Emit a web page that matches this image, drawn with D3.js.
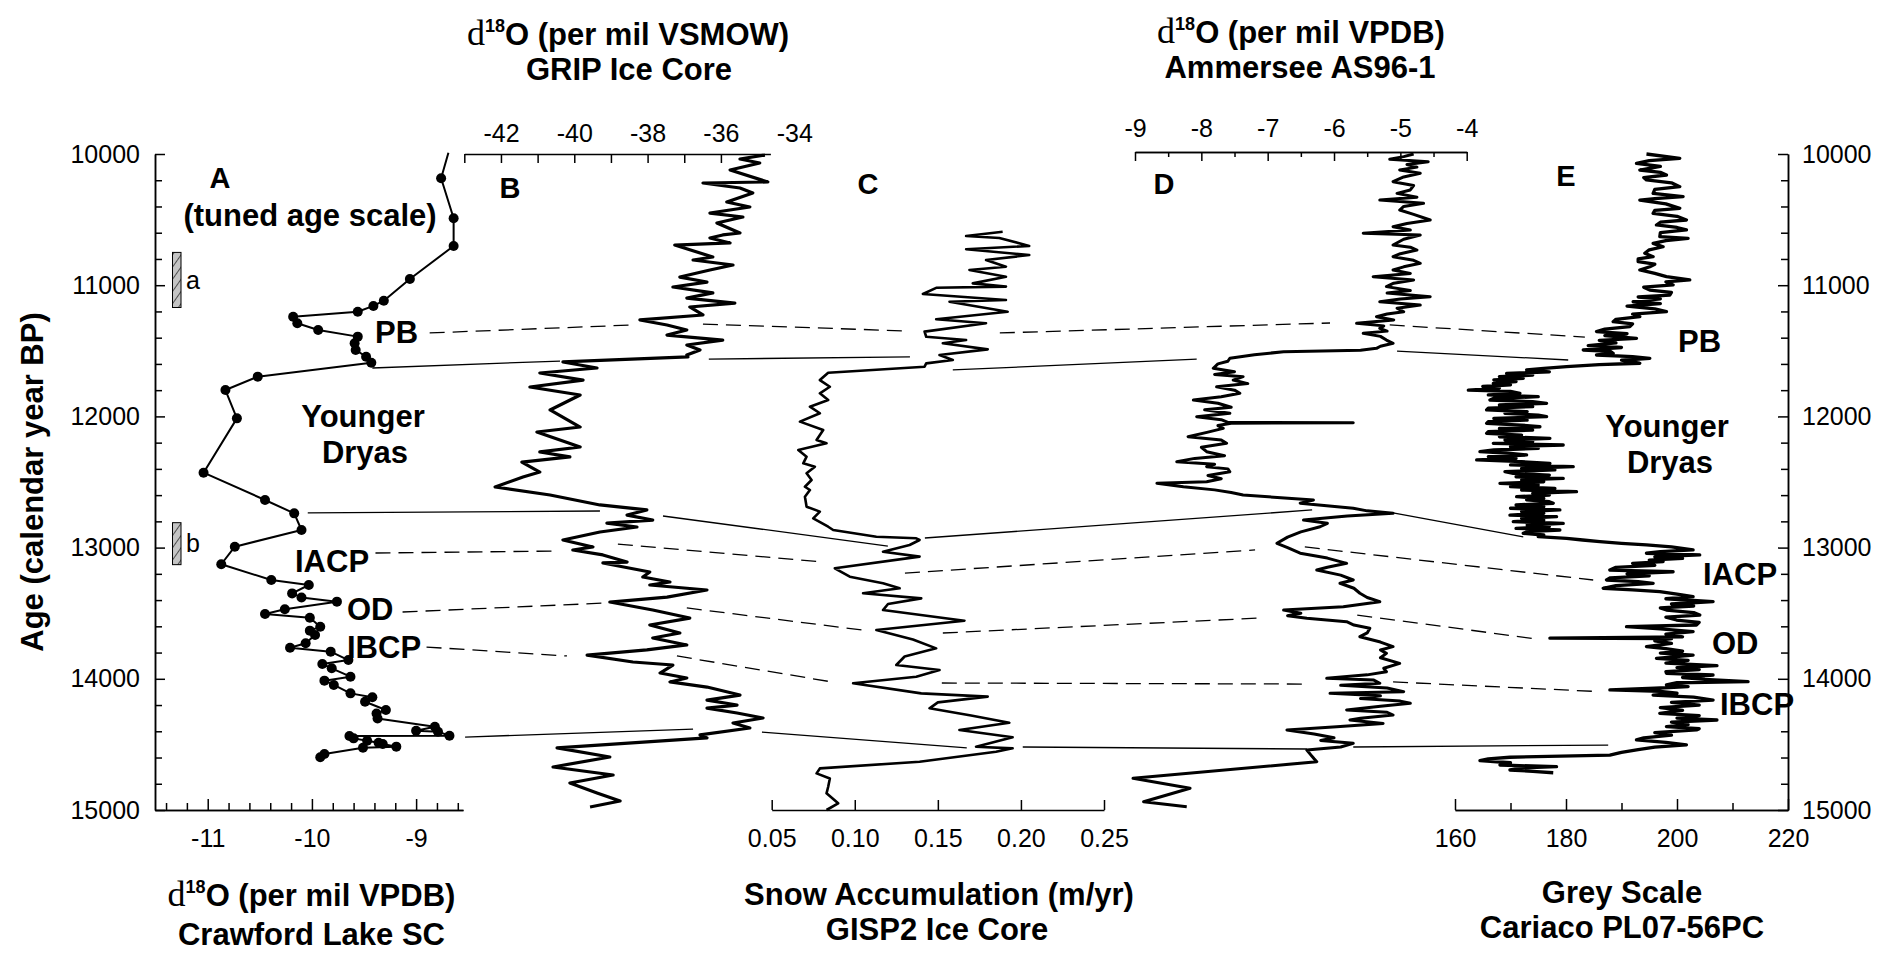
<!DOCTYPE html>
<html>
<head>
<meta charset="utf-8">
<script src="https://cdn.jsdelivr.net/npm/d3@7"></script>
<style>
  body { margin: 0; background: #fff; }
  svg text { font-family: "Liberation Sans", Arial, sans-serif; fill: #000; }
  .big { font-weight: bold; font-size: 31px; }
  .letter { font-weight: bold; font-size: 29px; }
</style>
</head>
<body>
<svg id="chart" width="1898" height="953"></svg>
<script>
// ---- data (age in calendar years BP) ----

// A: Crawford Lake d18O (per mil VPDB)
var crawford = [
  [9990,-8.69],[10185,-8.76],[10490,-8.64],[10701,-8.64],[10953,-9.06],[11118,-9.31],[11158,-9.41],
  [11202,-9.56],[11240,-10.18],[11290,-10.14],[11341,-9.94],[11392,-9.56],[11443,-9.59],[11494,-9.58],
  [11545,-9.48],[11591,-9.43],[11697,-10.52],[11799,-10.83],[12015,-10.72],[12429,-11.04],[12637,-10.45],
  [12739,-10.17],[12866,-10.10],[12993,-10.74],[13127,-10.87],[13247,-10.39],[13285,-10.03],[13349,-10.19],
  [13380,-10.10],[13412,-9.76],[13470,-10.26],[13506,-10.45],[13534,-10.02],[13603,-9.92],[13633,-10.02],
  [13666,-9.97],[13729,-10.06],[13763,-10.21],[13793,-9.82],[13857,-9.65],[13887,-9.90],[13920,-9.81],
  [13984,-9.63],[14014,-9.88],[14047,-9.79],[14111,-9.63],[14141,-9.42],[14175,-9.49],[14238,-9.29],
  [14264,-9.38],[14302,-9.37],[14365,-8.82],[14396,-9.00],[14403,-8.79],[14434,-8.68],[14436,-9.64],
  [14454,-9.60],[14472,-9.47],[14487,-9.36],[14497,-9.32],[14517,-9.19],[14525,-9.51],[14573,-9.88],
  [14598,-9.92]
];

// B: GRIP d18O (per mil VSMOW)
var grip = [
  [10008,-34.80],[10038,-35.48],[10069,-34.94],[10122,-35.75],[10213,-34.72],[10221,-36.49],[10259,-35.48],
  [10297,-35.13],[10366,-35.84],[10404,-35.21],[10450,-36.30],[10480,-35.40],[10526,-36.11],[10602,-35.48],
  [10617,-35.95],[10640,-36.30],[10678,-35.75],[10694,-37.26],[10785,-36.22],[10808,-36.76],[10846,-35.67],
  [10884,-36.30],[10938,-37.12],[10976,-36.38],[11014,-37.31],[11059,-36.22],[11098,-36.93],[11136,-35.62],
  [11166,-36.85],[11227,-36.49],[11265,-38.21],[11303,-37.47],[11341,-36.93],[11380,-37.47],[11418,-35.95],
  [11456,-36.93],[11494,-36.57],[11532,-36.93],[11547,-36.90],[11585,-40.31],[11631,-39.38],[11669,-40.94],
  [11723,-39.76],[11776,-41.21],[11837,-39.84],[11951,-40.66],[12081,-39.84],[12119,-41.02],[12233,-39.84],
  [12271,-40.94],[12309,-40.12],[12348,-41.43],[12424,-40.94],[12462,-41.40],[12538,-42.16],[12599,-40.66],
  [12675,-39.30],[12713,-38.02],[12752,-38.56],[12790,-37.86],[12813,-39.11],[12843,-38.29],[12881,-39.30],
  [12942,-40.31],[12995,-39.49],[13018,-40.04],[13056,-39.22],[13110,-38.56],[13117,-39.22],[13186,-37.94],
  [13224,-38.13],[13262,-37.39],[13285,-37.94],[13323,-36.38],[13377,-37.47],[13415,-39.03],[13476,-37.86],
  [13537,-36.85],[13590,-37.94],[13651,-37.12],[13689,-37.86],[13742,-36.93],[13780,-38.02],[13819,-39.65],
  [13872,-38.40],[13895,-37.31],[13956,-37.66],[13994,-36.93],[14024,-37.39],[14063,-36.38],[14124,-35.48],
  [14162,-36.38],[14200,-35.56],[14223,-36.38],[14261,-35.56],[14299,-34.85],[14337,-35.67],[14375,-35.21],
  [14428,-36.57],[14451,-36.38],[14527,-40.47],[14596,-39.03],[14672,-40.58],[14733,-38.94],[14794,-40.12],
  [14870,-39.38],[14931,-38.75],[14977,-39.57]
];

// C: GISP2 snow accumulation (m/yr)
var gisp2 = [
  [10592,0.189],[10625,0.167],[10640,0.187],[10701,0.205],[10726,0.167],[10770,0.205],[10808,0.179],
  [10859,0.191],[10884,0.169],[10935,0.191],[10986,0.171],[11011,0.191],[11020,0.149],[11067,0.141],
  [11113,0.191],[11126,0.157],[11202,0.192],[11260,0.149],[11290,0.179],[11354,0.142],[11393,0.143],
  [11418,0.167],[11443,0.153],[11489,0.180],[11532,0.151],[11570,0.159],[11596,0.143],[11621,0.142],
  [11667,0.084],[11723,0.079],[11774,0.085],[11824,0.079],[11875,0.084],[11926,0.073],[11976,0.079],
  [12040,0.067],[12104,0.081],[12180,0.077],[12205,0.083],[12256,0.066],[12307,0.071],[12358,0.069],
  [12383,0.076],[12434,0.071],[12485,0.074],[12536,0.070],[12561,0.073],[12612,0.070],[12688,0.071],
  [12726,0.079],[12777,0.075],[12841,0.084],[12866,0.087],[12917,0.113],[12929,0.137],[12942,0.139],
  [12980,0.133],[13031,0.117],[13069,0.139],[13158,0.088],[13222,0.097],[13272,0.117],[13310,0.127],
  [13348,0.105],[13387,0.140],[13430,0.120],[13476,0.117],[13557,0.166],[13628,0.113],[13700,0.135],
  [13768,0.149],[13830,0.130],[13895,0.125],[13933,0.151],[13984,0.137],[14034,0.099],[14111,0.140],
  [14136,0.180],[14180,0.150],[14225,0.145],[14280,0.170],[14335,0.193],[14390,0.163],[14446,0.195],
  [14518,0.173],[14530,0.195],[14556,0.185],[14632,0.139],[14683,0.079],[14721,0.077],[14760,0.085],
  [14823,0.084],[14873,0.083],[14949,0.090],[15000,0.083]
];

// D: Ammersee d18O (per mil VPDB)
var ammersee = [
  [10000,-4.80],[10020,-4.95],[10040,-5.16],[10059,-4.58],[10080,-4.90],[10100,-4.75],[10122,-5.01],
  [10147,-4.70],[10175,-4.95],[10211,-5.11],[10240,-4.80],[10274,-4.85],[10300,-5.05],[10330,-4.75],
  [10351,-5.31],[10376,-4.65],[10400,-4.95],[10427,-5.01],[10460,-4.80],[10503,-4.55],[10530,-4.90],
  [10554,-5.11],[10580,-4.85],[10604,-5.56],[10617,-4.70],[10650,-4.95],[10694,-5.11],[10710,-4.85],
  [10732,-4.75],[10760,-5.00],[10783,-5.11],[10810,-4.80],[10833,-4.70],[10860,-4.95],[10884,-5.11],
  [10910,-4.85],[10935,-5.41],[10960,-4.80],[10985,-5.10],[11011,-5.21],[11040,-4.85],[11060,-5.20],
  [11088,-4.55],[11105,-5.00],[11126,-5.31],[11151,-4.70],[11175,-5.05],[11202,-4.95],[11220,-5.20],
  [11240,-5.36],[11265,-5.10],[11290,-5.66],[11310,-5.25],[11329,-5.31],[11350,-5.20],[11367,-5.56],
  [11390,-5.30],[11418,-5.21],[11443,-5.11],[11465,-5.30],[11481,-5.36],[11495,-5.60],[11507,-6.76],
  [11530,-7.20],[11557,-7.57],[11580,-7.60],[11600,-7.75],[11633,-7.82],[11660,-7.50],[11680,-7.80],
  [11697,-7.37],[11723,-7.52],[11750,-7.30],[11774,-7.77],[11800,-7.50],[11824,-7.42],[11850,-7.70],
  [11875,-8.12],[11900,-7.75],[11930,-7.55],[11950,-7.95],[11976,-7.57],[12002,-8.07],[12025,-7.70],
  [12046,-7.60],[12048,-5.71],[12052,-7.55],[12070,-7.75],[12091,-7.67],[12120,-7.90],[12155,-8.20],
  [12180,-7.70],[12205,-7.62],[12235,-8.00],[12269,-7.92],[12300,-7.65],[12320,-8.10],[12345,-8.37],
  [12365,-7.80],[12383,-7.92],[12400,-7.60],[12422,-7.57],[12450,-7.90],[12475,-7.70],[12498,-7.92],
  [12510,-8.67],[12536,-8.27],[12560,-7.80],[12580,-7.55],[12599,-7.37],[12620,-6.80],[12637,-6.31],
  [12662,-6.51],[12700,-5.71],[12720,-5.50],[12739,-5.11],[12760,-5.80],[12790,-6.46],[12815,-6.10],
  [12841,-6.21],[12880,-6.50],[12920,-6.70],[12967,-6.86],[13000,-6.70],[13043,-6.51],[13080,-6.10],
  [13120,-5.81],[13150,-6.10],[13171,-6.26],[13210,-5.90],[13247,-5.71],[13272,-5.91],[13310,-5.70],
  [13348,-5.61],[13380,-5.50],[13412,-5.31],[13450,-5.86],[13476,-6.76],[13500,-6.50],[13520,-6.70],
  [13539,-6.41],[13565,-5.81],[13590,-5.70],[13615,-5.46],[13650,-5.50],[13679,-5.61],[13720,-5.30],
  [13755,-5.11],[13780,-5.30],[13806,-5.21],[13840,-5.30],[13882,-5.01],[13920,-5.25],[13946,-5.21],
  [13970,-5.50],[13996,-6.11],[14010,-5.40],[14034,-5.31],[14050,-5.90],[14070,-5.20],[14098,-4.95],
  [14111,-6.06],[14130,-5.30],[14150,-5.60],[14170,-5.00],[14187,-4.85],[14210,-5.30],[14237,-5.81],
  [14255,-5.20],[14276,-5.11],[14300,-5.60],[14314,-5.76],[14340,-5.26],[14365,-5.96],[14390,-6.71],
  [14420,-6.30],[14450,-6.00],[14470,-6.20],[14492,-5.71],[14520,-5.90],[14543,-6.41],[14580,-6.35],
  [14610,-6.30],[14632,-6.26],[14758,-9.03],[14834,-8.17],[14937,-8.87],[14975,-8.22]
];

// E: Cariaco PL07-56PC grey scale
var cariaco = [
  [10000,194.5],[10033,200.5],[10050,195.0],[10071,192.7],[10095,197.0],[10122,193.3],[10140,197.0],
  [10160,198.1],[10180,194.0],[10198,194.5],[10220,199.0],[10249,200.5],[10270,196.0],[10300,195.7],
  [10325,201.1],[10340,196.0],[10351,193.3],[10380,198.0],[10414,200.5],[10430,196.0],[10452,195.7],
  [10475,200.0],[10503,201.7],[10520,197.0],[10541,196.3],[10560,200.0],[10579,201.7],[10600,197.0],
  [10630,196.9],[10643,202.0],[10660,198.0],[10681,195.7],[10707,197.5],[10730,195.0],[10757,194.2],
  [10783,195.7],[10800,193.0],[10821,193.0],[10840,196.0],[10859,195.1],[10884,193.3],[10910,196.0],
  [10935,198.1],[10960,202.3],[10975,198.0],[10998,199.3],[11015,194.0],[11037,195.1],[11055,199.0],
  [11075,198.7],[11090,193.0],[11105,197.0],[11126,192.1],[11140,197.0],[11160,191.0],[11180,196.0],
  [11202,198.1],[11220,192.0],[11240,193.3],[11260,189.0],[11278,188.5],[11295,192.0],[11316,191.5],
  [11335,187.0],[11354,185.5],[11370,191.0],[11385,187.0],[11405,192.7],[11420,186.0],[11440,189.0],
  [11460,184.0],[11475,190.0],[11494,183.1],[11505,188.0],[11519,188.5],[11532,185.5],[11545,192.0],
  [11557,195.1],[11572,190.0],[11595,193.3],[11605,186.0],[11621,180.1],[11634,176.0],[11646,172.9],
  [11660,177.0],[11672,169.3],[11685,174.0],[11697,168.0],[11710,172.3],[11722,167.0],[11735,171.0],
  [11748,166.9],[11760,170.0],[11772,165.0],[11785,168.0],[11799,162.4],[11810,170.0],[11824,171.7],
  [11836,166.0],[11850,175.0],[11862,167.0],[11875,166.3],[11888,174.0],[11900,176.5],[11912,168.0],
  [11925,174.0],[11938,166.0],[11951,165.7],[11964,173.0],[11977,169.0],[11990,175.0],[12002,176.5],
  [12015,167.0],[12028,173.0],[12040,166.0],[12053,165.7],[12066,172.0],[12079,175.3],[12092,168.0],
  [12104,174.0],[12116,166.0],[12129,165.7],[12142,172.0],[12155,168.0],[12167,177.1],[12180,169.0],
  [12192,174.0],[12205,166.9],[12218,179.5],[12230,170.0],[12244,175.0],[12256,167.0],[12269,164.5],
  [12282,170.0],[12294,172.9],[12306,166.0],[12320,171.0],[12332,163.9],[12345,172.0],[12358,177.1],
  [12370,170.0],[12383,181.3],[12396,172.0],[12408,178.0],[12421,169.0],[12434,170.5],[12447,177.0],
  [12460,171.0],[12472,179.5],[12485,172.0],[12498,176.0],[12510,168.1],[12523,175.0],[12536,170.0],
  [12549,178.0],[12561,172.0],[12574,181.9],[12587,174.0],[12600,177.0],[12612,171.1],[12625,176.0],
  [12637,172.9],[12650,177.0],[12662,177.7],[12675,171.0],[12688,176.0],[12700,170.0],[12713,178.9],
  [12726,172.0],[12739,176.0],[12752,169.9],[12764,178.3],[12777,172.0],[12790,176.0],[12802,170.5],
  [12815,179.5],[12828,173.0],[12840,177.0],[12853,171.0],[12866,178.9],[12879,173.0],[12891,172.3],
  [12904,176.0],[12917,175.0],[12929,180.1],[12942,183.0],[12955,186.1],[12968,190.0],[12980,194.5],
  [12995,199.0],[13018,202.9],[13030,197.0],[13043,194.5],[13056,204.1],[13070,196.0],[13082,201.0],
  [13095,195.0],[13107,197.5],[13120,192.0],[13135,196.0],[13150,189.0],[13171,187.9],[13184,199.3],
  [13200,191.0],[13215,195.0],[13230,188.0],[13247,187.3],[13260,193.0],[13272,195.7],[13290,189.0],
  [13310,186.7],[13322,192.0],[13336,196.9],[13355,200.0],[13374,202.9],[13390,198.0],[13412,206.5],
  [13430,199.0],[13445,203.0],[13460,197.0],[13476,198.1],[13495,203.0],[13514,204.1],[13530,198.0],
  [13552,199.9],[13570,204.0],[13590,203.5],[13603,190.9],[13620,197.0],[13641,202.9],[13660,198.0],
  [13680,201.0],[13690,177.1],[13694,199.0],[13710,196.0],[13730,199.0],[13755,194.5],[13770,198.0],
  [13790,201.0],[13805,197.0],[13819,202.9],[13844,196.3],[13860,202.0],[13880,198.0],[13900,207.2],
  [13915,200.0],[13930,204.0],[13945,198.0],[13958,198.1],[13971,206.5],[13990,201.0],[14005,205.0],
  [14022,212.8],[14030,200.0],[14047,198.1],[14060,202.0],[14072,196.0],[14085,187.9],[14095,197.0],
  [14110,200.0],[14124,195.7],[14140,203.0],[14162,206.5],[14180,199.0],[14200,204.0],[14220,197.0],
  [14240,201.0],[14263,196.9],[14280,204.0],[14300,200.0],[14314,207.2],[14330,199.0],[14350,202.0],
  [14365,198.1],[14380,204.0],[14390,203.5],[14410,196.0],[14430,199.0],[14450,194.0],[14466,192.7],
  [14485,198.0],[14504,201.7],[14520,196.0],[14540,193.0],[14560,190.0],[14581,187.9],[14598,169.9],
  [14610,166.0],[14624,164.5],[14640,170.0],[14657,168.1],[14670,178.3],[14680,172.0],[14695,169.9],
  [14705,174.0],[14716,177.7]
];

// dated intervals marked by hatched bars beside panel A
var ageBars = [[10750, 11170, "a"], [12810, 13130, "b"]];

// correlation lines: each segment joins [panel, value, age] on two records
var linkPB = [
  [["A",-8.87,11364],["B",-38.40,11303]],
  [["B",-36.49,11296],["C",0.1314,11349]],
  [["C",0.1873,11364],["D",-6.06,11288]],
  [["D",-5.16,11303],["E",183.4,11395]]
];
var linkYDEnd = [
  [["A",-9.42,11631],["B",-40.39,11578]],
  [["B",-36.33,11563],["C",0.1332,11547]],
  [["C",0.1590,11646],["D",-8.07,11563]],
  [["D",-5.05,11502],["E",180.4,11570]]
];
var linkYDStart = [
  [["A",-10.04,12736],["B",-39.30,12721]],
  [["B",-37.58,12759],["C",0.1199,12988]],
  [["C",0.1422,12927],["D",-6.33,12713]],
  [["D",-5.11,12736],["E",172.3,12919]]
];
var linkIACP = [
  [["A",-9.39,13041],["B",-40.44,13026]],
  [["B",-38.81,12973],["C",0.0808,13110]],
  [["C",0.1302,13194],["D",-7.19,13018]],
  [["D",-6.44,12995],["E",184.9,13247]]
];
var linkOD = [
  [["A",-9.13,13491],["B",-39.11,13422]],
  [["B",-36.93,13460],["C",0.1043,13628]],
  [["C",0.1530,13651],["D",-7.12,13537]],
  [["D",-5.65,13514],["E",174.8,13697]]
];
var linkIBCP = [
  [["A",-8.90,13758],["B",-40.20,13826]],
  [["B",-37.20,13826],["C",0.0863,14024]],
  [["C",0.1524,14032],["D",-6.44,14040]],
  [["D",-5.11,14024],["E",185.8,14097]]
];
var linkBA = [
  [["A",-8.53,14444],["B",-36.76,14383]],
  [["B",-34.88,14406],["C",0.1674,14527]],
  [["C",0.2011,14520],["D",-6.41,14535]],
  [["D",-5.71,14520],["E",187.6,14505]]
];

// tick labels
var ageMajor = [10000, 11000, 12000, 13000, 14000, 15000];
var crawfordTicks = [-11, -10, -9];
var gripLabels = [-42, -40, -38, -36, -34];
var gisp2Ticks = [0.05, 0.10, 0.15, 0.20, 0.25];
var ammerseeTicks = [-9, -8, -7, -6, -5, -4];
var cariacoTicks = [160, 180, 200, 220];

// ---- drawing ----
var svg = d3.select('#chart');
svg.append('rect').attr('width', 1898).attr('height', 953).attr('fill', '#fff');

var y = d3.scaleLinear().domain([10000, 15000]).range([154, 810]);
var xA = d3.scaleLinear().domain([-11.506, -8.55]).range([155, 463]);
var xB = d3.scaleLinear().domain([-43, -34.65]).range([464.3, 770.4]);
var xC = d3.scaleLinear().domain([0.05, 0.25]).range([771.7, 1104]);
var xD = d3.scaleLinear().domain([-9, -4]).range([1135, 1466.7]);
var xE = d3.scaleLinear().domain([160, 220]).range([1455, 1788]);
var panelX = {A: xA, B: xB, C: xC, D: xD, E: xE};

// plain hyphen for negative numbers, as in the original figure
function fmt(spec) {
  var f = d3.format(spec);
  return function(v) { return f(v).replace('\u2212', '-'); };
}
function styleAxis(g) {
  g.selectAll('path, line').attr('stroke', '#000').attr('stroke-width', 1.5);
  g.selectAll('text').attr('font-size', 25).attr('fill', '#000');
}
function notMajor(list) {
  return function(v) { return list.every(function(m) { return Math.abs(m - v) > 1e-6; }); };
}

// age axes
var ageMinor = d3.range(10200, 15000, 200).filter(notMajor(ageMajor));
svg.append('g').attr('transform', 'translate(155,0)')
  .call(d3.axisLeft(y).tickValues(ageMajor).tickSizeInner(-10).tickSizeOuter(0)
    .tickPadding(15).tickFormat(fmt('d'))).call(styleAxis);
svg.append('g').attr('transform', 'translate(155,0)')
  .call(d3.axisLeft(y).tickValues(ageMinor).tickSizeInner(-7).tickSizeOuter(0).tickFormat(''))
  .call(styleAxis);
svg.append('g').attr('transform', 'translate(1788,0)')
  .call(d3.axisRight(y).tickValues(ageMajor).tickSizeInner(-10).tickSizeOuter(0)
    .tickPadding(14).tickFormat(fmt('d'))).call(styleAxis);
svg.append('g').attr('transform', 'translate(1788,0)')
  .call(d3.axisRight(y).tickValues(ageMinor).tickSizeInner(-7).tickSizeOuter(0).tickFormat(''))
  .call(styleAxis);

// A bottom axis
svg.append('g').attr('transform', 'translate(0,810)')
  .call(d3.axisBottom(xA).tickValues(crawfordTicks).tickSizeInner(-11).tickSizeOuter(0)
    .tickPadding(19).tickFormat(fmt('d'))).call(styleAxis);
svg.append('g').attr('transform', 'translate(0,810)')
  .call(d3.axisBottom(xA).tickValues(d3.range(-11.4, -8.55, 0.2).filter(notMajor(crawfordTicks)))
    .tickSizeInner(-7).tickSizeOuter(0).tickFormat('')).call(styleAxis);

// B top axis
svg.append('g').attr('transform', 'translate(0,154)')
  .call(d3.axisTop(xB).tickValues(d3.range(-43, -35.5, 1)).tickSizeInner(-9).tickSizeOuter(0)
    .tickFormat('')).call(styleAxis);
svg.append('g').attr('transform', 'translate(0,154)')
  .call(d3.axisTop(xB).tickValues(gripLabels).tickSize(0).tickPadding(12).tickFormat(fmt('d')))
  .call(styleAxis).select('.domain').remove();

// C bottom axis
svg.append('g').attr('transform', 'translate(0,810)')
  .call(d3.axisBottom(xC).tickValues(gisp2Ticks).tickSizeInner(-10).tickSizeOuter(0)
    .tickPadding(19).tickFormat(fmt('.2f'))).call(styleAxis);

// D top axis
svg.append('g').attr('transform', 'translate(0,152)')
  .call(d3.axisTop(xD).tickValues(ammerseeTicks).tickSizeInner(-9).tickSizeOuter(0)
    .tickPadding(15).tickFormat(fmt('d'))).call(styleAxis);
svg.append('g').attr('transform', 'translate(0,152)')
  .call(d3.axisTop(xD).tickValues(d3.range(-8.5, -4, 1)).tickSizeInner(-5).tickSizeOuter(0)
    .tickFormat('')).call(styleAxis);

// E bottom axis
svg.append('g').attr('transform', 'translate(0,810)')
  .call(d3.axisBottom(xE).tickValues(cariacoTicks).tickSizeInner(-11).tickSizeOuter(0)
    .tickPadding(19).tickFormat(fmt('d'))).call(styleAxis);
svg.append('g').attr('transform', 'translate(0,810)')
  .call(d3.axisBottom(xE).tickValues([170, 190, 210]).tickSizeInner(-7).tickSizeOuter(0)
    .tickFormat('')).call(styleAxis);

// correlation lines
var links = [
  {segs: linkPB, dashed: true}, {segs: linkYDEnd, dashed: false},
  {segs: linkYDStart, dashed: false}, {segs: linkIACP, dashed: true},
  {segs: linkOD, dashed: true}, {segs: linkIBCP, dashed: true},
  {segs: linkBA, dashed: false}
];
var gLinks = svg.append('g');
links.forEach(function(l) {
  gLinks.selectAll(null).data(l.segs).enter().append('line')
    .attr('x1', function(s) { return panelX[s[0][0]](s[0][1]); })
    .attr('y1', function(s) { return y(s[0][2]); })
    .attr('x2', function(s) { return panelX[s[1][0]](s[1][1]); })
    .attr('y2', function(s) { return y(s[1][2]); })
    .attr('stroke', '#000').attr('stroke-width', 1.3)
    .attr('stroke-dasharray', l.dashed ? '15,8' : null);
});

// records
function drawCurve(data, xs, width) {
  svg.append('path').datum(data)
    .attr('d', d3.line().x(function(d) { return xs(d[1]); }).y(function(d) { return y(d[0]); }))
    .attr('fill', 'none').attr('stroke', '#000').attr('stroke-width', width)
    .attr('stroke-linejoin', 'round');
}
drawCurve(crawford, xA, 2);
svg.append('g').selectAll('circle')
  .data(crawford.filter(function(d) { return d[0] >= 10000; }))
  .enter().append('circle')
  .attr('cx', function(d) { return xA(d[1]); }).attr('cy', function(d) { return y(d[0]); })
  .attr('r', 5).attr('fill', '#000');
drawCurve(grip, xB, 3.2);
drawCurve(gisp2, xC, 2.6);
drawCurve(ammersee, xD, 3);
drawCurve(cariaco, xE, 3.3);

// hatched age bars
var pat = svg.append('defs').append('pattern').attr('id', 'hatch')
  .attr('patternUnits', 'userSpaceOnUse').attr('width', 7).attr('height', 7)
  .attr('patternTransform', 'rotate(35)');
pat.append('rect').attr('width', 7).attr('height', 7).attr('fill', '#c4c4c4');
pat.append('line').attr('x1', 0).attr('y1', 0).attr('x2', 0).attr('y2', 7)
  .attr('stroke', '#000').attr('stroke-width', 1.2);
var bars = svg.append('g').selectAll('g').data(ageBars).enter().append('g');
bars.append('rect').attr('x', 172.5).attr('width', 8.5)
  .attr('y', function(d) { return y(d[0]); })
  .attr('height', function(d) { return y(d[1]) - y(d[0]); })
  .attr('fill', 'url(#hatch)').attr('stroke', '#000').attr('stroke-width', 1);
bars.append('text').attr('x', 186)
  .attr('y', function(d) { return (y(d[0]) + y(d[1])) / 2; }).attr('dy', '0.35em')
  .attr('font-size', 25).text(function(d) { return d[2]; });

// annotation text
function label(x, yy, txt, cls, anchor) {
  svg.append('text').attr('x', x).attr('y', yy).attr('class', cls)
    .attr('text-anchor', anchor || 'start').text(txt);
}
label(220, 188, 'A', 'letter', 'middle');
label(310, 226, '(tuned age scale)', 'big', 'middle');
label(510, 198, 'B', 'letter', 'middle');
label(868, 194, 'C', 'letter', 'middle');
label(1164, 194, 'D', 'letter', 'middle');
label(1566, 186, 'E', 'letter', 'middle');

label(375, 343, 'PB', 'big');
label(363, 427, 'Younger', 'big', 'middle');
label(365, 463, 'Dryas', 'big', 'middle');
label(295, 572, 'IACP', 'big');
label(347, 620, 'OD', 'big');
label(347, 658, 'IBCP', 'big');

label(1678, 352, 'PB', 'big');
label(1667, 437, 'Younger', 'big', 'middle');
label(1670, 473, 'Dryas', 'big', 'middle');
label(1703, 585, 'IACP', 'big');
label(1712, 654, 'OD', 'big');
label(1720, 715, 'IBCP', 'big');

// axis titles
function isotopeTitle(cx, yy, rest) {
  var t = svg.append('text').attr('x', cx).attr('y', yy).attr('class', 'big')
    .attr('text-anchor', 'middle');
  t.append('tspan').style('font-family', '"Liberation Serif", "DejaVu Serif", serif')
    .attr('font-weight', 'normal').attr('font-size', 36).text('d');
  t.append('tspan').attr('font-size', 18).attr('dy', -13).text('18');
  t.append('tspan').attr('dy', 13).text(rest);
}
isotopeTitle(311.5, 906, 'O (per mil VPDB)');
label(311.5, 945, 'Crawford Lake SC', 'big', 'middle');
isotopeTitle(628, 45, 'O (per mil VSMOW)');
label(629, 80, 'GRIP Ice Core', 'big', 'middle');
isotopeTitle(1301, 43, 'O (per mil VPDB)');
label(1300, 78, 'Ammersee AS96-1', 'big', 'middle');
label(939, 905, 'Snow Accumulation (m/yr)', 'big', 'middle');
label(937, 940, 'GISP2 Ice Core', 'big', 'middle');
label(1622, 903, 'Grey Scale', 'big', 'middle');
label(1622, 938, 'Cariaco PL07-56PC', 'big', 'middle');

svg.append('text').attr('class', 'big').attr('text-anchor', 'middle')
  .attr('transform', 'translate(43,482) rotate(-90)').text('Age (calendar year BP)');
</script>
</body>
</html>
